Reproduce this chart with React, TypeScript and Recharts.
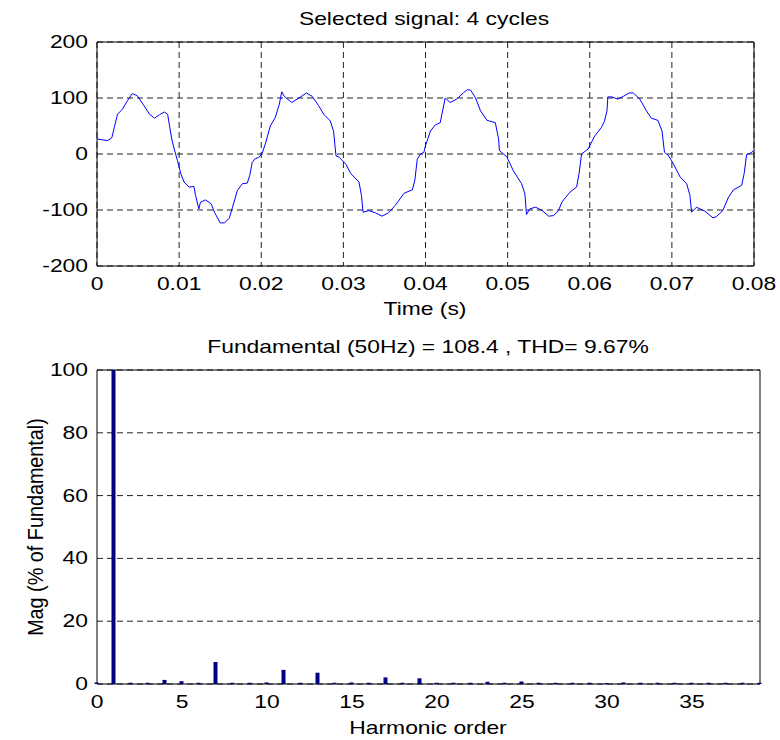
import { LineChart, Line, BarChart, Bar, XAxis, YAxis, CartesianGrid, ReferenceArea } from 'recharts'

// waveform samples (time in ms, amplitude)
const timeMs = [
  0, 0.8, 1.3, 1.8, 2.1, 2.5, 3.1, 3.7, 4.3, 4.9, 5.6, 6.4, 7.0, 7.6, 8.2, 8.6, 8.8, 9.1, 9.4, 9.8,
  10.2, 10.6, 11.2, 11.8, 12.0, 12.4, 12.6, 13.2, 13.9, 14.3, 15.0, 15.5, 16.1, 16.5, 17.1, 17.7, 18.3, 18.6, 18.9, 19.2,
  19.7, 20.1, 20.5, 21.1, 21.7, 22.2, 22.5, 22.8, 23.7, 24.6, 25.5, 26.2, 27.0, 27.6, 28.4, 28.8, 29.1, 29.5, 30.3, 30.9,
  31.9, 32.2, 32.4, 33.1, 33.9, 34.7, 35.5, 36.3, 37.4, 38.4, 38.7, 39.0, 39.4, 39.8, 40.0, 40.6, 41.2, 41.8, 42.0, 42.4,
  43.0, 43.8, 44.6, 45.1, 45.5, 46.1, 46.7, 47.5, 48.5, 48.9, 49.0, 49.9, 50.7, 51.7, 52.1, 52.3, 52.7, 53.4, 54.2, 55.0,
  55.6, 56.2, 56.6, 57.6, 58.4, 58.7, 59.0, 59.8, 60.6, 61.4, 61.8, 62.1, 62.2, 62.7, 63.4, 64.1, 64.8, 65.3, 66.1, 66.9,
  67.5, 68.3, 68.8, 69.1, 69.6, 70.2, 71.0, 71.8, 72.2, 72.4, 73.0, 74.0, 75.0, 75.4, 76.2, 76.9, 77.5, 78.5, 78.8, 79.1,
  79.5, 80.0,
]
const signal = [
  27, 25, 24, 29, 47, 71, 80, 95, 108, 104, 89, 71, 64, 70, 75, 71, 53, 27, 9, -12,
  -35, -50, -59, -58, -74, -98, -86, -82, -89, -104, -123, -123, -115, -95, -65, -53, -52, -38, -15, -9,
  -6, 1, 18, 50, 65, 89, 111, 103, 92, 100, 109, 103, 86, 71, 59, 41, -3, -6, -18, -35,
  -50, -74, -104, -101, -105, -111, -105, -92, -70, -64, -47, -9, 0, 3, 15, 41, 52, 56, 71, 100,
  92, 98, 109, 115, 114, 100, 77, 60, 56, 27, 6, -5, -30, -53, -71, -108, -98, -95, -101, -111,
  -110, -101, -86, -68, -59, -35, 0, 9, 32, 47, 59, 77, 102, 102, 98, 103, 109, 109, 98, 77,
  64, 60, 41, 3, -3, -18, -41, -53, -74, -104, -95, -102, -114, -112, -101, -77, -64, -56, -35, -1,
  1, 6,
]
const timeTicks = [0, 0.01, 0.02, 0.03, 0.04, 0.05, 0.06, 0.07, 0.08]
const ampTicks = [-200, -100, 0, 100, 200]

// harmonic spectrum, % of fundamental, orders 0..39
const harmonicOrder = [
  0, 1, 2, 3, 4, 5, 6, 7, 8, 9, 10, 11, 12, 13, 14, 15, 16, 17, 18, 19,
  20, 21, 22, 23, 24, 25, 26, 27, 28, 29, 30, 31, 32, 33, 34, 35, 36, 37, 38, 39,
]
const magnitude = [
  0.5, 100, 0.4, 0.4, 1.3, 0.9, 0.4, 7.0, 0.4, 0.4, 0.5, 4.5, 0.4, 3.6, 0.4, 0.5, 0.4, 2.1, 0.4, 1.8,
  0.4, 0.4, 0.4, 0.7, 0.4, 0.8, 0.4, 0.4, 0.4, 0.4, 0.3, 0.5, 0.4, 0.4, 0.4, 0.4, 0.4, 0.4, 0.4, 0.4,
]
const orderTicks = [0, 5, 10, 15, 20, 25, 30, 35]
const magTicks = [0, 20, 40, 60, 80, 100]

const FONT = '"Liberation Sans", Arial, Helvetica, sans-serif'
const SX = 1.27 // the original figure is stretched sideways

function StretchText({ x, y, anchor = 'middle', children }: any) {
  return (
    <text
      transform={`translate(${x},${y}) scale(${SX},1)`}
      textAnchor={anchor}
      fontFamily={FONT}
      fontSize={18}
      fill="#000"
    >
      {children}
    </text>
  )
}

const fmtTime = (v: number) => (v === 0 ? '0' : v.toFixed(2))

export default function App() {
  const waveData = timeMs.map((t, i) => ({ t: t / 1000, v: signal[i] }))
  const fftData = harmonicOrder.map((h, i) => ({ h, m: magnitude[i] }))

  return (
    <div style={{ position: 'absolute', left: 0, top: 0, width: 780, height: 740, background: '#fff' }}>
      <div style={{ position: 'absolute', left: 0, top: 0 }}>
        <LineChart width={780} height={320} data={waveData} margin={{ top: 42, right: 26, bottom: 24, left: 37 }}>
          <CartesianGrid stroke="#222" strokeDasharray="6 4" />
          <XAxis
            dataKey="t"
            type="number"
            domain={[0, 0.08]}
            ticks={timeTicks}
            height={30}
            axisLine={false}
            tickLine={false}
            tick={(p: any) => (
              <StretchText key={p.index} x={p.payload.coordinate} y={290}>
                {fmtTime(p.payload.value)}
              </StretchText>
            )}
          />
          <YAxis
            type="number"
            domain={[-200, 200]}
            ticks={ampTicks}
            width={60}
            axisLine={false}
            tickLine={false}
            tick={(p: any) => (
              <StretchText key={p.index} x={88} y={p.payload.coordinate + 6} anchor="end">
                {p.payload.value}
              </StretchText>
            )}
          />
          <ReferenceArea x1={0} x2={0.08} y1={-200} y2={200} fill="none" stroke="#000" strokeWidth={1} />
          <Line dataKey="v" type="linear" stroke="#0000ff" strokeWidth={1} dot={false} isAnimationActive={false} />
        </LineChart>
      </div>

      <div style={{ position: 'absolute', left: 0, top: 330 }}>
        <BarChart width={780} height={410} data={fftData} margin={{ top: 40, right: 20, bottom: 26, left: 37 }}>
          <CartesianGrid stroke="#222" strokeDasharray="6 4" vertical={false} />
          <XAxis
            dataKey="h"
            type="number"
            domain={[0, 39]}
            ticks={orderTicks}
            height={30}
            axisLine={false}
            tickLine={false}
            tick={(p: any) => (
              <StretchText key={p.index} x={p.payload.coordinate} y={378}>
                {p.payload.value}
              </StretchText>
            )}
          />
          <YAxis
            type="number"
            domain={[0, 100]}
            ticks={magTicks}
            width={60}
            axisLine={false}
            tickLine={false}
            tick={(p: any) => (
              <StretchText key={p.index} x={88} y={p.payload.coordinate + 6} anchor="end">
                {p.payload.value}
              </StretchText>
            )}
          />
          <ReferenceArea x1={0} x2={39} y1={0} y2={100} fill="none" stroke="#000" strokeWidth={1} />
          <Bar dataKey="m" fill="#000080" barSize={4} isAnimationActive={false} />
        </BarChart>
      </div>

      <svg width={780} height={740} style={{ position: 'absolute', left: 0, top: 0, pointerEvents: 'none' }}>
        <StretchText x={424} y={25}>Selected signal: 4 cycles</StretchText>
        <StretchText x={425} y={315}>Time (s)</StretchText>
        <StretchText x={428} y={353}>Fundamental (50Hz) = 108.4 , THD= 9.67%</StretchText>
        <StretchText x={428} y={734}>Harmonic order</StretchText>
        <text
          transform="translate(43,527) rotate(-90) scale(1.1,1.2)"
          textAnchor="middle"
          fontFamily={FONT}
          fontSize={18}
          fill="#000"
        >
          Mag (% of Fundamental)
        </text>
      </svg>
    </div>
  )
}
